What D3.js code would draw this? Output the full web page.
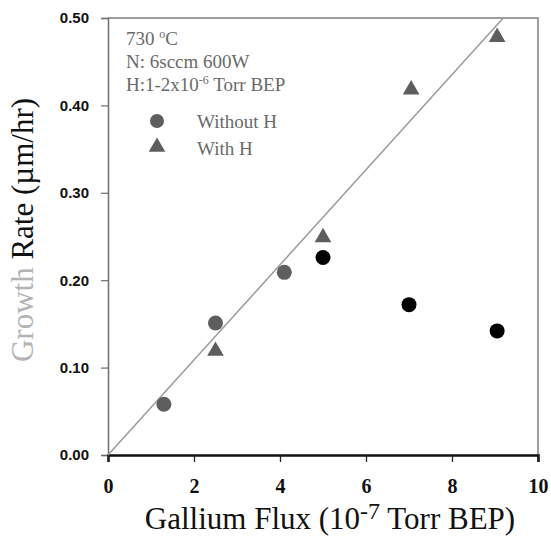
<!DOCTYPE html>
<html>
<head>
<meta charset="utf-8">
<script src="https://cdn.jsdelivr.net/npm/d3@7"></script>
<style>
  body { margin: 0; background: #fff; }
  svg { display: block; }
</style>
</head>
<body>
<div id="chart"></div>
<script>
const width = 551;
const height = 548;

const markerGray = '#5e5e5e';
const textGray = '#6a6a6a';
const lineGray = '#9a9a9a';
const frameGray = '#808080';

// data
const withoutHFlux = [1.3, 2.5, 4.1];
const withoutHRate = [0.058, 0.151, 0.209];
const lowFlux = [5.0, 7.0, 9.05];
const lowRate = [0.226, 0.172, 0.142];
const withHFlux = [2.5, 5.0, 7.05, 9.05];
const withHRate = [0.119, 0.249, 0.418, 0.478];
const fitSlope = 0.0544;
const xTicks = [0, 2, 4, 6, 8, 10];
const yTicks = [0, 0.1, 0.2, 0.3, 0.4, 0.5];

const margin = {left: 108, right: 13, top: 18, bottom: 93};

const xScale = d3.scaleLinear().domain([0, 10]).range([margin.left, width - margin.right]);
const yScale = d3.scaleLinear().domain([0, 0.5]).range([height - margin.bottom, margin.top]);

const svg = d3.select('#chart')
  .append('svg')
  .attr('width', width)
  .attr('height', height);

const x0 = xScale(0), x1 = xScale(10), y0 = yScale(0), y1 = yScale(0.5);

// frame: top and right sides
svg.append('path')
  .attr('d', `M${x0},${y1}H${x1}V${y0 + 7}`)
  .attr('fill', 'none')
  .attr('stroke', frameGray)
  .attr('stroke-width', 1.5);

// y axis
const yAxis = svg.append('g')
  .attr('transform', `translate(${x0},0)`)
  .call(d3.axisLeft(yScale).tickValues(yTicks).tickFormat(d3.format('.2f')).tickSize(7).tickPadding(12));
yAxis.select('.domain').attr('stroke', '#6e6e6e').attr('stroke-width', 1.5);
yAxis.selectAll('line').attr('stroke', '#6e6e6e').attr('stroke-width', 1.2);
yAxis.selectAll('text')
  .attr('fill', '#111')
  .style('font-family', '"Liberation Sans", Arial, sans-serif')
  .style('font-weight', 'bold')
  .style('font-size', '15px');

// x axis
const xAxis = svg.append('g')
  .attr('transform', `translate(0,${y0})`)
  .call(d3.axisBottom(xScale).tickValues(xTicks).tickSize(7).tickPadding(17));
xAxis.select('.domain').attr('stroke', '#111').attr('stroke-width', 2.5);
xAxis.selectAll('line').attr('stroke', '#222').attr('stroke-width', 1.3);
xAxis.selectAll('text')
  .attr('fill', '#111')
  .style('font-family', '"Liberation Serif", "Times New Roman", serif')
  .style('font-weight', 'bold')
  .style('font-size', '20px');

// fit line through origin
const fitEnd = 0.5 / fitSlope;
svg.append('line')
  .attr('x1', xScale(0))
  .attr('y1', yScale(0))
  .attr('x2', xScale(fitEnd))
  .attr('y2', yScale(fitSlope * fitEnd))
  .attr('stroke', lineGray)
  .attr('stroke-width', 1.5);

const triangle = d3.symbol().type(d3.symbolTriangle).size(120);

// with H triangles
svg.append('g')
  .selectAll('path')
  .data(withHFlux)
  .join('path')
  .attr('d', triangle)
  .attr('transform', (d, i) => `translate(${xScale(d)},${yScale(withHRate[i])})`)
  .attr('fill', markerGray);

// without H circles
svg.append('g')
  .selectAll('circle')
  .data(withoutHFlux)
  .join('circle')
  .attr('cx', d => xScale(d))
  .attr('cy', (d, i) => yScale(withoutHRate[i]))
  .attr('r', 7.5)
  .attr('fill', markerGray);

svg.append('g')
  .selectAll('circle')
  .data(lowFlux)
  .join('circle')
  .attr('cx', d => xScale(d))
  .attr('cy', (d, i) => yScale(lowRate[i]))
  .attr('r', 7.5)
  .attr('fill', '#000');

// legend
const legend = svg.append('g')
  .style('font-family', '"Liberation Serif", "Times New Roman", serif')
  .style('font-size', '19px')
  .attr('fill', textGray);

const tLine = legend.append('text').attr('x', 126).attr('y', 45);
tLine.append('tspan').text('730 ');
tLine.append('tspan').attr('dy', -7).style('font-size', '12px').text('o');
tLine.append('tspan').attr('dy', 7).text('C');

legend.append('text').attr('x', 126).attr('y', 68).text('N: 6sccm 600W');

const hLine = legend.append('text').attr('x', 126).attr('y', 91);
hLine.append('tspan').text('H:1-2x10');
hLine.append('tspan').attr('dy', -7).style('font-size', '12px').text('-6');
hLine.append('tspan').attr('dy', 7).text(' Torr BEP');

legend.append('circle')
  .attr('cx', 157).attr('cy', 121).attr('r', 7)
  .attr('fill', markerGray);
legend.append('text').attr('x', 197).attr('y', 128).text('Without H');

legend.append('path')
  .attr('d', triangle)
  .attr('transform', 'translate(157,147)')
  .attr('fill', markerGray);
legend.append('text').attr('x', 197).attr('y', 155).text('With H');

// axis titles
const xTitle = svg.append('text')
  .attr('x', (143 + 517) / 2)
  .attr('y', 529)
  .attr('text-anchor', 'middle')
  .attr('fill', '#111')
  .style('font-family', '"Liberation Serif", "Times New Roman", serif')
  .style('font-size', '31px');
xTitle.append('tspan').text('Gallium Flux (10');
xTitle.append('tspan').attr('dy', -10).style('font-size', '24px').text('-7');
xTitle.append('tspan').attr('dy', 10).text(' Torr BEP)');

const yTitle = svg.append('text')
  .attr('transform', `translate(33,${(95 + 365) / 2}) rotate(-90)`)
  .attr('text-anchor', 'middle')
  .attr('fill', '#111')
  .style('font-family', '"Liberation Serif", "Times New Roman", serif')
  .style('font-size', '31px');
yTitle.append('tspan').attr('fill', '#b4b4b4').text('Growth');
yTitle.append('tspan').text(' Rate (µm/hr)');
</script>
</body>
</html>
